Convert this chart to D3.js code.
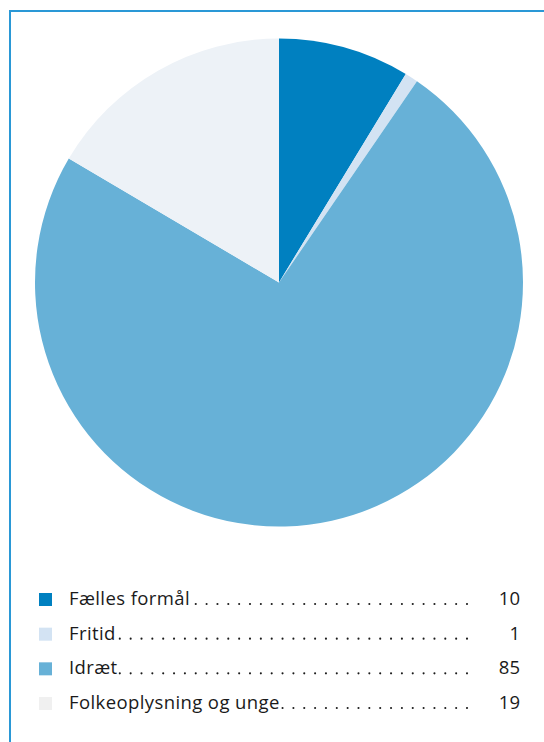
<!DOCTYPE html>
<html>
<head>
<meta charset="utf-8">
<script src="https://cdn.jsdelivr.net/npm/d3@7/dist/d3.min.js"></script>
<style>
  html, body { margin: 0; padding: 0; background: #fff; }
  svg { display: block; }
  text { font-family: "Open Sans", sans-serif; fill: #1a1a1a; }
</style>
</head>
<body>
<svg id="chart" width="544" height="742"></svg>
<script>
const categories = ["Fælles formål", "Fritid", "Idræt", "Folkeoplysning og unge"];
const values = [10, 1, 85, 19];
const sliceColors = ["#0080c0", "#d3e3f3", "#67b1d7", "#edf2f7"];
const legendColors = ["#0080c0", "#d3e3f3", "#67b1d7", "#f0f0f0"];

const data = categories.map((c, i) => ({ name: c, value: values[i], i }));

const svg = d3.select("#chart");
const W = 544, H = 742;

// frame lines
svg.append("line").attr("x1", 9).attr("x2", W).attr("y1", 11).attr("y2", 11)
  .attr("stroke", "#2a98d6").attr("stroke-width", 2);
svg.append("line").attr("x1", 10).attr("x2", 10).attr("y1", 10).attr("y2", H)
  .attr("stroke", "#2a98d6").attr("stroke-width", 2);

// pie
const cx = 279, cy = 282.5, R = 244;
const pie = d3.pie().value(d => d.value).sort(null);
const arc = d3.arc().innerRadius(0).outerRadius(R);
svg.append("g").attr("transform", `translate(${cx},${cy})`)
  .selectAll("path").data(pie(data)).join("path")
  .attr("d", arc)
  .attr("fill", d => sliceColors[d.data.i]);

// legend
const rowY = d3.scalePoint().domain(categories).range([605, 709]);
const lg = svg.append("g");
const xText = 69, xNum = 520, dotEnd = 467, dotStep = 10.85;
data.forEach(d => {
  const y = rowY(d.name);
  lg.append("rect").attr("x", 39).attr("y", y - 12).attr("width", 13).attr("height", 13)
    .attr("fill", legendColors[d.i]);
  const t = lg.append("text").attr("x", xText).attr("y", y)
    .attr("font-size", 18.5).attr("letter-spacing", 0.4).text(d.name);
  const tw = t.node().getComputedTextLength();
  const startX = xText + tw + 1;
  for (let x = dotEnd; x >= startX; x -= dotStep) {
    lg.append("circle").attr("cx", x).attr("cy", y - 1).attr("r", 1.05).attr("fill", "#1a1a1a");
  }
  lg.append("text").attr("x", xNum).attr("y", y).attr("text-anchor", "end")
    .attr("font-size", 18.5).text(d.value);
});
</script>
</body>
</html>
